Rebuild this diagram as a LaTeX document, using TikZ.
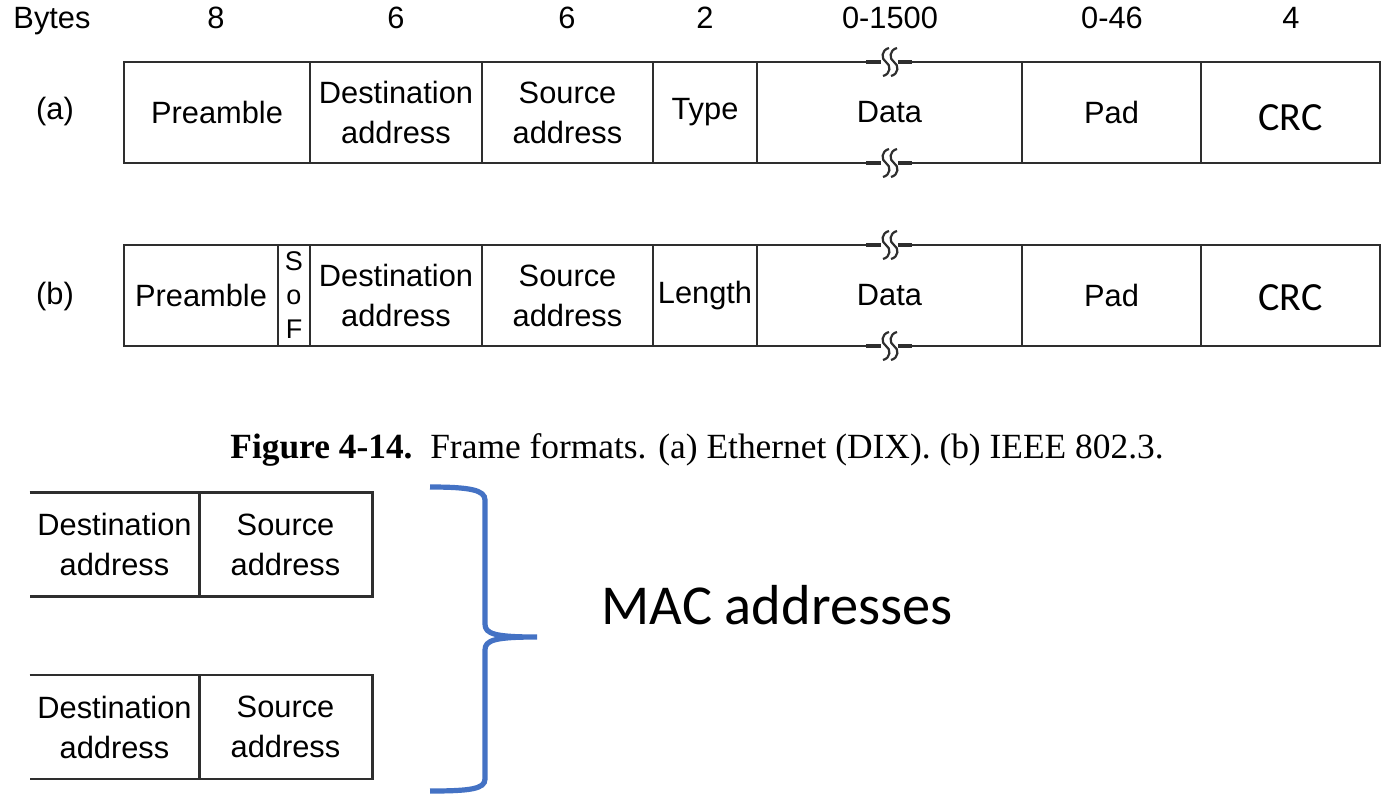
\documentclass[tikz,border=0pt]{standalone}
\usepackage{fontspec}
\setmainfont{Liberation Sans}
\newfontfamily\calfont{Carlito}
\newfontfamily\capfont{Liberation Serif}
\usepackage{xcolor}
\usetikzlibrary{positioning}
\definecolor{bracketblue}{HTML}{4472C4}
\definecolor{framegray}{HTML}{2E2E2E}

\tikzset{
  field/.style={draw=framegray, line width=1.3pt, rectangle, inner sep=0pt,
                minimum height=50.5pt, align=center,
                font=\fontsize{15.4}{20}\selectfont},
  cell/.style={rectangle, inner sep=0pt, minimum height=51.5pt, align=center,
               font=\fontsize{15.4}{20}\selectfont},
  bytes/.style={inner sep=0pt, anchor=base, font=\fontsize{15.4}{18}\selectfont},
  frameline/.style={draw=framegray, line width=1.3pt},
  crctext/.style={font=\calfont\fontsize{20}{22}\selectfont},
}

\begin{document}
\begin{tikzpicture}[x=0.5pt, y=-0.5pt]
\useasboundingbox (0,0) rectangle (1388,800);

% byte counts
\node[bytes] (lbytes)  at (   52, 28 ) {Bytes};
\node[bytes] (lpre)    at (  216, 28 ) {8};
\node[bytes] (ldst)    at (  396, 28 ) {6};
\node[bytes] (lsrc)    at (  567, 28 ) {6};
\node[bytes] (ltype)   at (  705, 28 ) {2};
\node[bytes] (ldata)   at (  890, 28 ) {0-1500};
\node[bytes] (lpad)    at ( 1112, 28 ) {0-46};
\node[bytes] (lcrc)    at ( 1291, 28 ) {4};

% (a) Ethernet DIX
\node[cell]  (rowA)    at (   55, 112 ) {(a)};
\node[field, minimum width=93pt]   (preA)  at (  217, 112.5 ) {Preamble};
\node[field, minimum width=86pt]   (dstA)  at (  396, 112.5 ) {Destination\\address};
\node[field, minimum width=85.5pt] (srcA)  at (567.5, 112.5 ) {Source\\address};
\node[field, minimum width=52pt]   (typeA) at (  705, 112.5 ) {Type};
\node[field, minimum width=132.5pt](dataA) at (889.5, 112.5 ) {Data};
\node[field, minimum width=89.5pt] (padA)  at (1111.5,112.5 ) {Pad};
\node[field, minimum width=89.5pt, label={[crctext, yshift=-2.8pt]center:CRC}]
                                   (crcA)  at (1290.5,112.5 ) {};

% (b) IEEE 802.3
\node[cell]  (rowB)    at (   55, 297 ) {(b)};
\node[field, minimum width=77pt]   (preB)  at (  201, 295.5 ) {Preamble};
\node[field, minimum width=16pt, font=\fontsize{13.5}{17}\selectfont]
                                   (sofB)  at (  294, 295.5 ) {S\\o\\F};
\node[field, minimum width=86pt]   (dstB)  at (  396, 295.5 ) {Destination\\address};
\node[field, minimum width=85.5pt] (srcB)  at (567.5, 295.5 ) {Source\\address};
\node[field, minimum width=52pt]   (lenB)  at (  705, 295.5 ) {Length};
\node[field, minimum width=132.5pt](dataB) at (889.5, 295.5 ) {Data};
\node[field, minimum width=89.5pt] (padB)  at (1111.5,295.5 ) {Pad};
\node[field, minimum width=89.5pt, label={[crctext, yshift=-1.2pt]center:CRC}]
                                   (crcB)  at (1290.5,295.5 ) {};

% break marks in the data fields
\foreach \yy in {62, 163, 245, 346} {
  \fill[white] (880, \yy-3) rectangle (899, \yy+3);
  \draw[framegray, line width=1.8pt] (866, \yy) -- (881, \yy);
  \draw[framegray, line width=1.8pt] (898, \yy) -- (912, \yy);
  \foreach \xx in {886, 894}
    \draw[framegray, line width=1.1pt]
      (\xx+3, \yy-14) .. controls (\xx-5, \yy-12) and (\xx-5, \yy-3) .. (\xx, \yy)
      .. controls (\xx+5, \yy+3) and (\xx+5, \yy+12) .. (\xx-3, \yy+14);
}

% caption
\node (caption) at ( 697, 450 ) [font=\capfont\fontsize{17.7}{19}\selectfont]
  {\textbf{Figure 4-14.}\ \ Frame formats. (a) Ethernet (DIX). (b) IEEE 802.3.};

% address fields again
\node[cell, minimum width=84.5pt] (dstC) at ( 114.5, 544.5 ) {Destination\\address};
\node[cell, minimum width=86.5pt] (srcC) at ( 285.5, 544.5 ) {Source\\address};
\draw[frameline] (dstC.north west) -- (srcC.north east) -- (srcC.south east) -- (dstC.south west);
\draw[frameline] (dstC.north east) -- (dstC.south east);

\node[cell, minimum width=84.5pt] (dstD) at ( 114.5, 727 ) {Destination\\address};
\node[cell, minimum width=86.5pt] (srcD) at ( 285.5, 727 ) {Source\\address};
\draw[frameline] (dstD.north west) -- (srcD.north east) -- (srcD.south east) -- (dstD.south west);
\draw[frameline] (dstD.north east) -- (dstD.south east);

% brace
\node (mac) at ( 777, 605 ) [font=\calfont\fontsize{28.2}{30}\selectfont] {MAC addresses};
\coordinate (tip) at ( 537, 637 );
\draw[bracketblue, line width=2.6pt]
  (430, 487) .. controls (470, 487) and (485, 490) .. (485, 500)
  -- (485, 624) .. controls (485, 634) and (495, 637) .. (tip)
  (tip) .. controls (495, 637) and (485, 640) .. (485, 650)
  -- (485, 779) .. controls (485, 789) and (470, 791) .. (430, 791);
\end{tikzpicture}
\end{document}
